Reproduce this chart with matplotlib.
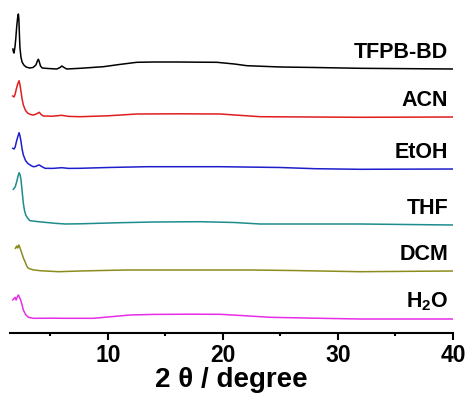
import matplotlib
matplotlib.use("Agg")
import matplotlib.pyplot as plt

plt.rcParams['font.family'] = ['Liberation Sans', 'DejaVu Sans']
plt.rcParams['font.weight'] = 'bold'
plt.rcParams['mathtext.fontset'] = 'custom'
plt.rcParams['mathtext.rm'] = 'Liberation Sans:bold'
plt.rcParams['mathtext.bf'] = 'Liberation Sans:bold'

# sample names, bottom to top
names = ['H$_2$O', 'DCM', 'THF', 'EtOH', 'ACN', 'TFPB-BD']
colors = ['#e62ee6', '#8c8c1e', '#1e8c8c', '#1e1ecc', '#e01e1e', '#000000']
offsets = [14, 62, 108, 164, 216, 264]

# patterns (2 theta, intensity above baseline)
h2o_x = [1.74, 1.85, 1.94, 2.03, 2.13, 2.23, 2.33, 2.43, 2.55, 2.66, 2.85, 3.10, 3.53, 5.0, 6.43,
         8.75, 10.5, 11.94, 14.0, 17.0, 19.77, 22.0, 24.11, 28.0, 31.94, 40.0]
h2o_y = [19, 20.5, 21.7, 19, 22, 24, 21.5, 19, 14, 9, 4.5, 1.7, 0.7, 0.8, 0.7,
         0.7, 2.5, 4, 4.6, 4.8, 4.7, 3.2, 1.7, 0.8, 0, 0]

dcm_x = [1.97, 2.03, 2.09, 2.15, 2.20, 2.26, 2.31, 2.37, 2.43, 2.55, 2.68, 2.81, 2.95, 3.10, 3.5,
         4.11, 5.70, 7.59, 9.5, 11.65, 22.37, 26.0, 31.94, 40.0]
dcm_y = [22.7, 24, 25, 23, 23.5, 26, 25, 23, 21, 17, 12.5, 9.3, 5, 2.7, 1.2,
         0.3, -0.7, 0, 0.5, 1, 1, 0.5, -0.7, 0]

thf_x = [1.79, 1.95, 2.10, 2.20, 2.29, 2.38, 2.46, 2.56, 2.66, 2.76, 2.87, 3.05, 3.24, 3.6, 3.97,
         5.42, 6.29, 7.59, 9.5, 11.07, 14.0, 18.03, 21.0, 23.24, 31.94, 40.0]
thf_y = [35.7, 38, 44, 49, 52.3, 50, 45, 33, 21.7, 14.5, 10, 6.5, 4.3, 3.8, 3.3,
         1.7, 1, 1.2, 1.8, 2.3, 3, 3.3, 2.5, 1, 1, 0]

etoh_x = [1.74, 1.85, 1.95, 2.05, 2.17, 2.29, 2.37, 2.45, 2.55, 2.66, 2.85, 3.05, 3.39, 3.53, 3.75,
          3.90, 4.05, 4.25, 4.55, 5.2, 6.0, 6.6, 7.59, 10.0, 13.39, 19.77, 25.0, 28.0, 31.94, 40.0]
etoh_y = [20.7, 20, 22, 27, 32, 36.3, 33, 28, 20, 14, 8.5, 5.5, 3, 2.3, 2.6,
          3.6, 4, 2.5, 0.7, 0.6, 1.3, 0.6, 0.7, 1.5, 2.3, 2.3, 1.5, 0.3, -0.3, 0]

acn_x = [1.74, 1.85, 1.95, 2.05, 2.17, 2.29, 2.37, 2.45, 2.55, 2.66, 2.85, 3.05, 3.3, 3.53, 3.75,
         3.90, 4.05, 4.20, 4.40, 5.2, 6.0, 6.6, 7.59, 10.0, 12.52, 16.0, 19.77, 23.24, 31.94, 40.0]
acn_y = [21, 20, 23, 28, 33, 36.3, 32, 26, 18, 12, 6.5, 3.8, 2.4, 2, 2.8,
         3.8, 4.7, 2.5, 1, 0.8, 1.7, 0.6, 0.3, 1.2, 3, 3.2, 3, 0.3, -0.3, 0]

tfpb_x = [1.75, 1.80, 1.85, 1.93, 2.00, 2.08, 2.15, 2.20, 2.23, 2.27, 2.30, 2.36, 2.45, 2.55, 2.70,
          2.90, 3.20, 3.50, 3.75, 3.90, 3.97, 4.05, 4.15, 4.30, 4.8, 5.57, 5.85, 6.0, 6.2, 6.43,
          7.59, 9.62, 11.0, 12.52, 14.0, 16.0, 18.0, 19.48, 21.0, 22.09, 25.0, 28.0, 31.94, 40.0]
tfpb_y = [20, 17, 16, 22, 30, 42, 50, 54, 55, 50, 40, 22, 12, 7, 4,
          2, 1, 1.5, 4, 8.5, 9.7, 7, 3, 1, 0.5, 0, 1.5, 3, 1.5, 0,
          0.7, 2.3, 4.5, 6.7, 7, 7, 6.8, 6.7, 5, 3.3, 2, 1.5, 0.7, 0]

xs = [h2o_x, dcm_x, thf_x, etoh_x, acn_x, tfpb_x]
ys = [h2o_y, dcm_y, thf_y, etoh_y, acn_y, tfpb_y]

fig = plt.figure(figsize=(4.7, 4.01), dpi=100)
ax = fig.add_axes([10 / 470, 1 - 333 / 401, 443 / 470, 333 / 401])

for x, y, off, c, name in zip(xs, ys, offsets, colors, names):
    ax.plot(x, [v + off for v in y], color=c, lw=1.1)
    ax.text(39.6, off + 17, name, color='black', fontsize=15.5, fontweight='bold',
            ha='right', va='center')

ax.set_xlim(1.5, 40)
ax.set_ylim(0, 333)
ax.set_xticks([10, 20, 30, 40])
ax.set_xticks([5, 15, 25, 35], minor=True)
ax.set_yticks([])
for s in ['top', 'right', 'left']:
    ax.spines[s].set_visible(False)
ax.spines['bottom'].set_linewidth(1.5)
ax.tick_params(axis='x', which='major', length=5, width=1.5, labelsize=16.5, pad=3)
ax.tick_params(axis='x', which='minor', length=2.5, width=1.5)
for lab in ax.get_xticklabels():
    lab.set_fontweight('bold')
ax.set_xlabel('2 θ / degree', fontsize=20, fontweight='bold', labelpad=0)

fig.savefig('out.png', dpi=100)
